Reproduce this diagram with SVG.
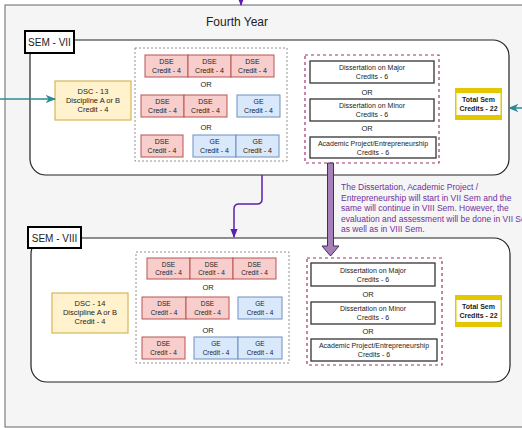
<svg xmlns="http://www.w3.org/2000/svg" width="522" height="428" viewBox="0 0 522 428">
<defs>
<style>
text{font-family:"Liberation Sans",Arial,sans-serif;fill:#222;text-anchor:middle}
.dse{fill:#f8cecc;stroke:#b85450;stroke-width:1}
.ge{fill:#dae8fc;stroke:#6c8ebf;stroke-width:1}
.dsc{fill:#fff2cc;stroke:#d6b656;stroke-width:1.2}
.sem{fill:#fff;stroke:#222;stroke-width:1.2}
.lbl{fill:#fff;stroke:#000;stroke-width:2}
.dot{fill:none;stroke:#777;stroke-width:0.8;stroke-dasharray:2 2}
.pink{fill:none;stroke:#a3336f;stroke-width:1.2;stroke-dasharray:3 3}
.dis{fill:#fff;stroke:#333;stroke-width:1.3}
.s7{font-size:7px}
.s6{font-size:6.5px}
.or{font-size:7.5px}
.tot{fill:#e3c800;stroke:none}
.note{fill:#7030a0;text-anchor:start;font-size:8.5px}
</style>
<marker id="pa" viewBox="0 0 10 10" refX="9" refY="5" markerWidth="6" markerHeight="6" orient="auto"><path d="M0,1 L10,5 L0,9 Z" fill="#5c1fb0"/></marker>
<marker id="ta" viewBox="0 0 10 10" refX="9" refY="5" markerWidth="7" markerHeight="7" orient="auto"><path d="M0,1 L10,5 L0,9 L3,5 Z" fill="#2b8a96"/></marker>
</defs>
<g id="container">
<rect x="5" y="5" width="530" height="422" fill="#f5f5f5" stroke="#666" stroke-width="1"/>
<text x="237" y="26" style="font-size:12px">Fourth Year</text>
</g>
<g id="sem7">
<rect class="sem" x="30" y="40" width="479" height="135" rx="16"/>
<rect class="lbl" x="25" y="31" width="49" height="22"/>
<text x="49.5" y="46" style="font-size:10px">SEM - VII</text>
</g>
<g id="sem8">
<rect class="sem" x="31" y="238" width="479" height="144" rx="16"/>
<rect class="lbl" x="28" y="227" width="53" height="21"/>
<text x="54.5" y="241.5" style="font-size:10px">SEM - VIII</text>
</g>
<g id="dsc13">
<rect class="dsc" x="55" y="81" width="76" height="39"/>
<text x="93" y="94" style="font-size:7.5px">DSC - 13</text>
<text x="93" y="103" style="font-size:7.5px">Discipline A or B</text>
<text x="93" y="112" style="font-size:7.5px">Credit - 4</text>
</g>
<g id="electives7">
<rect class="dot" x="135" y="48" width="152" height="113"/>
<rect class="dse" x="145" y="55" width="43" height="22"/><text class="s7" x="166.5" y="64">DSE</text><text class="s7" x="166.5" y="73">Credit - 4</text>
<rect class="dse" x="188" y="55" width="43" height="22"/><text class="s7" x="209.5" y="64">DSE</text><text class="s7" x="209.5" y="73">Credit - 4</text>
<rect class="dse" x="231" y="55" width="43" height="22"/><text class="s7" x="252.5" y="64">DSE</text><text class="s7" x="252.5" y="73">Credit - 4</text>
<text class="or" x="206" y="87">OR</text>
<rect class="dse" x="141" y="95" width="43" height="22"/><text class="s7" x="162.5" y="104">DSE</text><text class="s7" x="162.5" y="113">Credit - 4</text>
<rect class="dse" x="184" y="95" width="43" height="22"/><text class="s7" x="205.5" y="104">DSE</text><text class="s7" x="205.5" y="113">Credit - 4</text>
<rect class="ge" x="237" y="95" width="43" height="22"/><text class="s7" x="258.5" y="104">GE</text><text class="s7" x="258.5" y="113">Credit - 4</text>
<text class="or" x="206" y="130">OR</text>
<rect class="dse" x="141" y="135" width="42" height="22"/><text class="s7" x="162" y="144">DSE</text><text class="s7" x="162" y="153">Credit - 4</text>
<rect class="ge" x="193" y="135" width="43" height="22"/><text class="s7" x="214.5" y="144">GE</text><text class="s7" x="214.5" y="153">Credit - 4</text>
<rect class="ge" x="236" y="135" width="43" height="22"/><text class="s7" x="257.5" y="144">GE</text><text class="s7" x="257.5" y="153">Credit - 4</text>
</g>
<g id="dissertation7">
<rect class="pink" x="305" y="55" width="134" height="108"/>
<rect class="dis" x="310" y="61" width="124" height="22"/><text class="s7" x="372" y="70">Dissertation on Major</text><text class="s7" x="372" y="79">Credits - 6</text>
<text class="or" x="367" y="95">OR</text>
<rect class="dis" x="310" y="99" width="124" height="22"/><text class="s7" x="372" y="108">Dissertation on Minor</text><text class="s7" x="372" y="117">Credits - 6</text>
<text class="or" x="367" y="131">OR</text>
<rect class="dis" x="310" y="137" width="126" height="21"/><text class="s7" x="373" y="146">Academic Project/Entrepreneurship</text><text class="s7" x="373" y="155">Credits - 6</text>
</g>
<g id="total7">
<rect class="tot" x="455" y="88" width="47" height="32"/>
<rect x="456.5" y="93" width="44" height="22" fill="#fff"/>
<text x="478.5" y="102" style="font-size:7px;font-weight:bold">Total Sem</text>
<text x="478.5" y="111" style="font-size:7px;font-weight:bold">Credits - 22</text>
</g>
<g id="dsc14">
<rect class="dsc" x="52" y="293" width="76" height="40"/>
<text x="90" y="306" style="font-size:7.5px">DSC - 14</text>
<text x="90" y="315" style="font-size:7.5px">Discipline A or B</text>
<text x="90" y="324" style="font-size:7.5px">Credit - 4</text>
</g>
<g id="electives8">
<rect class="dot" x="136" y="252" width="153" height="111"/>
<rect class="dse" x="147" y="258" width="43" height="21"/><text class="s6" x="168.5" y="266.5">DSE</text><text class="s6" x="168.5" y="275">Credit - 4</text>
<rect class="dse" x="190" y="258" width="43" height="21"/><text class="s6" x="211.5" y="266.5">DSE</text><text class="s6" x="211.5" y="275">Credit - 4</text>
<rect class="dse" x="233" y="258" width="43" height="21"/><text class="s6" x="254.5" y="266.5">DSE</text><text class="s6" x="254.5" y="275">Credit - 4</text>
<text class="or" x="208" y="290">OR</text>
<rect class="dse" x="142" y="297" width="44" height="22"/><text class="s6" x="164" y="306">DSE</text><text class="s6" x="164" y="314.5">Credit - 4</text>
<rect class="dse" x="186" y="297" width="43" height="22"/><text class="s6" x="207.5" y="306">DSE</text><text class="s6" x="207.5" y="314.5">Credit - 4</text>
<rect class="ge" x="238" y="297" width="44" height="22"/><text class="s6" x="260" y="306">GE</text><text class="s6" x="260" y="314.5">Credit - 4</text>
<text class="or" x="208" y="333">OR</text>
<rect class="dse" x="142" y="337" width="43" height="22"/><text class="s6" x="163.5" y="346">DSE</text><text class="s6" x="163.5" y="354.5">Credit - 4</text>
<rect class="ge" x="194" y="337" width="44" height="22"/><text class="s6" x="216" y="346">GE</text><text class="s6" x="216" y="354.5">Credit - 4</text>
<rect class="ge" x="238" y="337" width="44" height="22"/><text class="s6" x="260" y="346">GE</text><text class="s6" x="260" y="354.5">Credit - 4</text>
</g>
<g id="dissertation8">
<rect class="pink" x="307" y="258" width="135" height="107"/>
<rect class="dis" x="311" y="263" width="124" height="23"/><text class="s7" x="373" y="272.5">Dissertation on Major</text><text class="s7" x="373" y="281.5">Credits - 6</text>
<text class="or" x="368" y="297">OR</text>
<rect class="dis" x="311" y="302" width="124" height="22"/><text class="s7" x="373" y="311">Dissertation on Minor</text><text class="s7" x="373" y="320">Credits - 6</text>
<text class="or" x="368" y="334">OR</text>
<rect class="dis" x="311" y="339" width="126" height="22"/><text class="s7" x="374" y="348">Academic Project/Entrepreneurship</text><text class="s7" x="374" y="357">Credits - 6</text>
</g>
<g id="total8">
<rect class="tot" x="455" y="295" width="47" height="32"/>
<rect x="456.5" y="300" width="44" height="22" fill="#fff"/>
<text x="478.5" y="309" style="font-size:7px;font-weight:bold">Total Sem</text>
<text x="478.5" y="318" style="font-size:7px;font-weight:bold">Credits - 22</text>
</g>
<g id="note">
<text class="note" x="341" y="190">The Dissertation, Academic Project /</text>
<text class="note" x="341" y="200.5">Entrepreneurship will start in VII Sem and the</text>
<text class="note" x="341" y="211">same will continue in VIII Sem. However, the</text>
<text class="note" x="341" y="221.5">evaluation and assessment will be done in VII Sem</text>
<text class="note" x="341" y="232">as well as in VIII Sem.</text>
</g>
<g id="connectors">
<path d="M241,-2 V5" fill="none" stroke="#5c1fb0" stroke-width="1.5" marker-end="url(#pa)"/>
<path d="M0,99 H55" fill="none" stroke="#2b8a96" stroke-width="1.5" marker-end="url(#ta)"/>
<path d="M522,108 H509" fill="none" stroke="#2b8a96" stroke-width="1.5" marker-end="url(#ta)"/>
<path d="M262,175 V199 Q262,204 257,204 H239 Q234,204 234,209 V237" fill="none" stroke="#5c1fb0" stroke-width="1.5" marker-end="url(#pa)"/>
<path d="M327.5,163 V246 H322 L330.5,256 L339,246 H333.5 V163 Z" fill="#a680b8" stroke="#432d5c" stroke-width="1"/>
</g>
</svg>
